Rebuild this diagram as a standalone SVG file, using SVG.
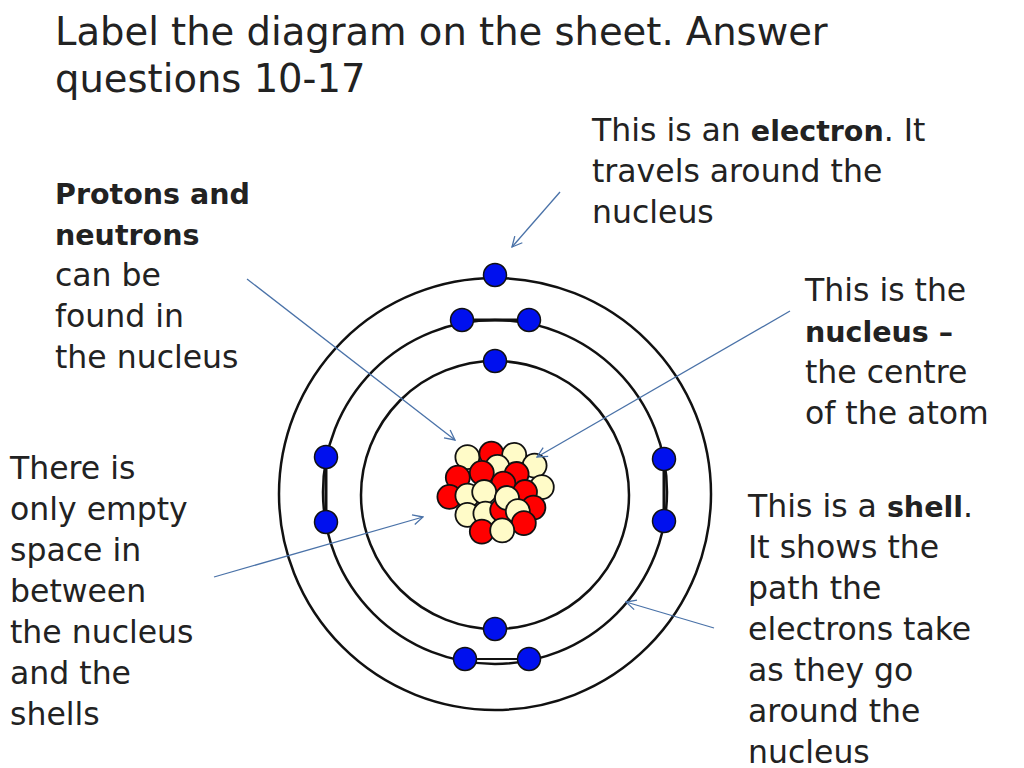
<svg xmlns="http://www.w3.org/2000/svg" width="1024" height="768" viewBox="0 0 1024 768">
<defs>
<style>
text{font-family:"DejaVu Sans","Noto Sans",sans-serif;fill:#222}
.t{font-size:38.5px}
.b{font-size:31.5px}
.bold{font-weight:bold;font-size:28.5px}
.orb{fill:none;stroke:#111;stroke-width:2.5}
.e{fill:#0010ee;stroke:#111;stroke-width:1.5}
.r{fill:#f00;stroke:#111;stroke-width:1.5}
.c{fill:#fffbc8;stroke:#111;stroke-width:1.5}
.ar{stroke:#4a72a8;stroke-width:1.3;fill:none;marker-end:url(#ah)}
</style>
<marker id="ah" viewBox="0 0 12 12" refX="11" refY="6" markerWidth="12" markerHeight="12" markerUnits="userSpaceOnUse" orient="auto"><path d="M1,1 L11,6 L1,11" fill="none" stroke="#4a72a8" stroke-width="1.3"/></marker>
</defs>
<rect width="1024" height="768" fill="#fff"/>
<g id="title">
<text class="t" x="55" y="45">Label the diagram on the sheet. Answer</text>
<text class="t" x="55" y="92">questions 10-17</text>
</g>
<g id="atom">
<circle class="orb" cx="495" cy="494" r="216"/>
<circle class="orb" cx="495" cy="492" r="172"/>
<circle class="orb" cx="495" cy="495" r="134"/>
<line x1="462" y1="320" x2="529" y2="320" stroke="#111" stroke-width="3"/>
<line x1="326" y1="457" x2="326" y2="522" stroke="#111" stroke-width="3"/>
<line x1="664" y1="459" x2="664" y2="521" stroke="#111" stroke-width="3"/>
<line x1="465" y1="659" x2="529" y2="659" stroke="#111" stroke-width="2"/>
</g>
<g id="electrons">
<circle class="e" cx="495" cy="275" r="11.5"/>
<circle class="e" cx="462" cy="320" r="11.5"/>
<circle class="e" cx="529" cy="320" r="11.5"/>
<circle class="e" cx="495" cy="361" r="11.5"/>
<circle class="e" cx="326" cy="457" r="11.5"/>
<circle class="e" cx="326" cy="522" r="11.5"/>
<circle class="e" cx="664" cy="459" r="11.5"/>
<circle class="e" cx="664" cy="521" r="11.5"/>
<circle class="e" cx="495" cy="629" r="11.5"/>
<circle class="e" cx="465" cy="659" r="11.5"/>
<circle class="e" cx="529" cy="659" r="11.5"/>
</g>
<g id="nucleus" transform="translate(495,492) scale(1.2) translate(-495,-492)">
<circle class="c" cx="472" cy="463" r="10"/>
<circle class="r" cx="492" cy="460" r="10"/>
<circle class="c" cx="511" cy="461" r="10"/>
<circle class="c" cx="528" cy="470" r="10"/>
<circle class="r" cx="464" cy="480" r="10"/>
<circle class="c" cx="497" cy="471" r="10"/>
<circle class="r" cx="484" cy="476" r="10"/>
<circle class="r" cx="513" cy="477" r="10"/>
<circle class="c" cx="534" cy="488" r="10"/>
<circle class="r" cx="457" cy="496" r="10"/>
<circle class="r" cx="502" cy="485" r="10"/>
<circle class="r" cx="520" cy="492" r="10"/>
<circle class="c" cx="472" cy="495" r="10"/>
<circle class="c" cx="486" cy="492" r="10"/>
<circle class="r" cx="527" cy="505" r="10"/>
<circle class="c" cx="472" cy="511" r="10"/>
<circle class="c" cx="487" cy="510" r="10"/>
<circle class="r" cx="501" cy="507" r="10"/>
<circle class="c" cx="505" cy="497" r="10"/>
<circle class="c" cx="514" cy="508" r="10"/>
<circle class="r" cx="519" cy="518" r="10"/>
<circle class="r" cx="484" cy="525" r="10"/>
<circle class="c" cx="501" cy="524" r="10"/>
</g>
<g id="connectors">
<line class="ar" x1="560" y1="192" x2="512" y2="247"/>
<line class="ar" x1="247" y1="279" x2="455" y2="440"/>
<line class="ar" x1="790" y1="311" x2="537" y2="457"/>
<line class="ar" x1="214" y1="577" x2="423" y2="517"/>
<line class="ar" x1="714" y1="628" x2="626" y2="602"/>
</g>
<g id="label-electron">
<text class="b" x="592" y="141">This is an <tspan class="bold">electron</tspan>. It</text>
<text class="b" x="592" y="182">travels around the</text>
<text class="b" x="592" y="223">nucleus</text>
</g>
<g id="label-protons">
<text class="b bold" x="55" y="204">Protons and</text>
<text class="b bold" x="55" y="245">neutrons</text>
<text class="b" x="55" y="286">can be</text>
<text class="b" x="55" y="327">found in</text>
<text class="b" x="55" y="368">the nucleus</text>
</g>
<g id="label-nucleus">
<text class="b" x="805" y="301">This is the</text>
<text class="b bold" x="805" y="342">nucleus –</text>
<text class="b" x="805" y="383">the centre</text>
<text class="b" x="805" y="424">of the atom</text>
</g>
<g id="label-space">
<text class="b" x="10" y="479">There is</text>
<text class="b" x="10" y="520">only empty</text>
<text class="b" x="10" y="561">space in</text>
<text class="b" x="10" y="602">between</text>
<text class="b" x="10" y="643">the nucleus</text>
<text class="b" x="10" y="684">and the</text>
<text class="b" x="10" y="725">shells</text>
</g>
<g id="label-shell">
<text class="b" x="748" y="517">This is a <tspan class="bold">shell</tspan>.</text>
<text class="b" x="748" y="558">It shows the</text>
<text class="b" x="748" y="599">path the</text>
<text class="b" x="748" y="640">electrons take</text>
<text class="b" x="748" y="681">as they go</text>
<text class="b" x="748" y="722">around the</text>
<text class="b" x="748" y="763">nucleus</text>
</g>
</svg>
